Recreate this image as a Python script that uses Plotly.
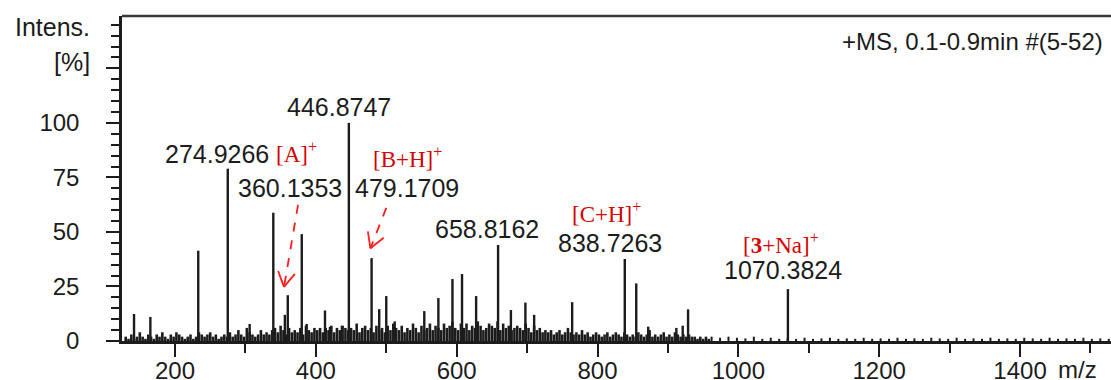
import math
import plotly.graph_objects as go

# ---- spectrum data (m/z, relative intensity in %) ----
# annotated peaks
peak_mz = [274.9266, 360.1353, 446.8747, 479.1709, 658.8162, 838.7263, 1070.3824]
peak_int = [79.0, 21.0, 100.0, 38.0, 44.0, 37.6, 23.8]
peak_ion = ["", "[A]<sup>+</sup>", "", "[B+H]<sup>+</sup>", "",
            "[C+H]<sup>+</sup>", "[<b>3</b>+Na]<sup>+</sup>"]

# other resolved peaks
other_mz = [141.8, 165.0, 233.0, 306.0, 339.6, 356.0, 380.0, 387.0, 413.0, 420.0,
            437.0, 490.0, 500.0, 512.0, 554.0, 574.0, 594.0, 607.6, 627.6, 677.0,
            697.6, 710.0, 764.0, 855.0, 872.0, 912.0, 921.0, 928.6]
other_int = [12.4, 11.0, 41.4, 7.8, 58.8, 12.0, 49.0, 7.8, 14.0, 6.5,
             7.0, 14.6, 20.6, 9.0, 13.7, 19.7, 28.4, 30.7, 20.6, 14.2,
             17.6, 12.0, 17.8, 26.4, 6.6, 6.0, 7.0, 14.5]

# chemical noise, m/z 130 - 958 in 4-unit bins
noise_mz = list(range(130, 959, 4))
noise_int = [
    2, 1, 3, 1, 2, 4, 2, 1, 3, 2,
    1, 3, 2, 4, 2, 1, 3, 2, 4, 3,
    2, 1, 2, 3, 1, 2, 4, 3, 2, 3,
    4, 2, 3, 1, 2, 3, 2, 4, 2, 3,
    5, 3, 2, 6, 4, 3, 2, 3, 5, 3,
    4, 3, 5, 6, 4, 7, 5, 3, 6, 4,
    5, 4, 6, 3, 7, 5, 4, 6, 5, 6,
    4, 6, 5, 7, 4, 6, 5, 7, 6, 5,
    6, 5, 8, 4, 6, 7, 5, 6, 4, 7,
    5, 6, 4, 7, 5, 8, 6, 5, 7, 4,
    6, 5, 8, 6, 4, 7, 5, 6, 8, 5,
    7, 6, 5, 8, 6, 7, 9, 6, 5, 8,
    6, 8, 5, 7, 6, 9, 7, 5, 6, 8,
    7, 6, 9, 5, 8, 6, 7, 5, 6, 7,
    6, 5, 8, 6, 4, 7, 5, 6, 4, 5,
    4, 5, 3, 4, 5, 3, 4, 6, 4, 3,
    4, 3, 5, 3, 4, 2, 3, 4, 3, 2,
    3, 4, 2, 3, 4, 3, 2, 4, 3, 2,
    3, 2, 4, 3, 2, 3, 5, 2, 3, 2,
    3, 4, 2, 3, 2, 4, 3, 2, 3, 2,
    3, 2, 2, 1, 2, 1, 2, 1,
]

# baseline noise at high mass, 12-unit bins
high_mz = list(range(962, 1527, 12))
high_int = [
    2, 1.5, 2, 1.5, 1.2, 2, 1, 1.5, 1, 1.2,
    1, 1.5, 1, 1.2, 1.5, 1, 1.2, 1, 1.5, 1,
    1.2, 1, 1.5, 1, 1.2, 1, 1.5, 1.2, 1, 1.5,
    1, 1.2, 1, 1.5, 1, 1.2, 1, 1.5, 1.2, 1,
    1.5, 1, 1.2, 1, 1.5, 1, 1.2, 1,
]

x_ticks = [200, 400, 600, 800, 1000, 1200, 1400]
y_ticks = [0, 25, 50, 75, 100, 125]
y_tick_text = ["0", "25", "50", "75", "100", ""]

# ---- geometry ----
X_RANGE = [124.73, 1529.2]
Y_RANGE = [0, 149]
W, H = 1111, 380
M_L, M_R, M_T, M_B = 122, 0, 16, 39
PLOT_W = W - M_L - M_R
PLOT_H = H - M_T - M_B

SANS = "Liberation Sans, Arial, sans-serif"
SERIF = "Liberation Serif, Times New Roman, serif"
INK = "#1c1c1c"
RED_TXT = "#d40000"
RED_ARROW = "#ff1e1e"


def sticks(mz, inten):
    xs, ys = [], []
    for m, v in zip(mz, inten):
        xs += [m, m, None]
        ys += [0, v, None]
    return xs, ys


fig = go.Figure()
for mz, it, w in [(noise_mz, noise_int, 2.6), (high_mz, high_int, 2.0),
                  (other_mz, other_int, 2.4), (peak_mz, peak_int, 2.4)]:
    xs, ys = sticks(mz, it)
    fig.add_trace(go.Scatter(x=xs, y=ys, mode="lines", hoverinfo="skip",
                             line=dict(color=INK, width=w), showlegend=False))

# ---- peak labels ----
num_dx = [-11, 2, -10, 35, -11, -15, -5]
num_dy = [15, 107, 16, 70, 16, 16, 19]
ion_dx = [0, 9, 0, 36, -18, -18, -7]
ion_dy = [0, 143, 0, 101, 0, 46, 46]

annotations = []
for i, (m, v) in enumerate(zip(peak_mz, peak_int)):
    annotations.append(dict(x=m, y=v, xref="x", yref="y", text=f"{m:.4f}",
                            showarrow=False, xanchor="center", yanchor="middle",
                            xshift=num_dx[i], yshift=num_dy[i],
                            font=dict(family=SANS, size=25, color=INK)))
    if peak_ion[i]:
        annotations.append(dict(x=m, y=v, xref="x", yref="y", text=peak_ion[i],
                                showarrow=False, xanchor="center", yanchor="middle",
                                xshift=ion_dx[i], yshift=ion_dy[i],
                                font=dict(family=SERIF, size=23, color=RED_TXT)))

annotations += [
    dict(x=0, y=0.966, xref="paper", yref="paper", text="Intens.", showarrow=False,
         xanchor="right", yanchor="middle", xshift=-30,
         font=dict(family=SANS, size=25, color=INK)),
    dict(x=0, y=0.858, xref="paper", yref="paper", text="[%]", showarrow=False,
         xanchor="right", yanchor="middle", xshift=-30,
         font=dict(family=SANS, size=25, color=INK)),
    dict(x=0.9666, y=0, xref="paper", yref="paper", text="m/z", showarrow=False,
         xanchor="center", yanchor="middle", yshift=-28,
         font=dict(family=SANS, size=24, color=INK)),
    dict(x=0.994, y=0.921, xref="paper", yref="paper",
         text="+MS, 0.1-0.9min #(5-52)", showarrow=False,
         xanchor="right", yanchor="middle",
         font=dict(family=SANS, size=24, color=INK)),
]


# ---- dashed red arrows pointing at the ion peaks ----
def to_px(m, v):
    return ((m - X_RANGE[0]) / (X_RANGE[1] - X_RANGE[0]) * PLOT_W,
            (v - Y_RANGE[0]) / (Y_RANGE[1] - Y_RANGE[0]) * PLOT_H)


def to_data(px, py):
    return (X_RANGE[0] + px / PLOT_W * (X_RANGE[1] - X_RANGE[0]),
            Y_RANGE[0] + py / PLOT_H * (Y_RANGE[1] - Y_RANGE[0]))


arrows = [((374.7, 62.4), (354.8, 24.8)),
          ((500.0, 61.0), (477.5, 42.5))]

shapes = []
for (tail, tip) in arrows:
    shapes.append(dict(type="line", xref="x", yref="y",
                       x0=tail[0], y0=tail[1], x1=tip[0], y1=tip[1],
                       line=dict(color=RED_ARROW, width=1.8, dash="dash")))
    tx, ty = to_px(*tail)
    hx, hy = to_px(*tip)
    dx, dy = tx - hx, ty - hy
    n = math.hypot(dx, dy)
    ux, uy = dx / n, dy / n
    for ang in (math.radians(30), math.radians(-30)):
        ax = hx + 17 * (ux * math.cos(ang) - uy * math.sin(ang))
        ay = hy + 17 * (ux * math.sin(ang) + uy * math.cos(ang))
        ex, ey = to_data(ax, ay)
        shapes.append(dict(type="line", xref="x", yref="y",
                           x0=tip[0], y0=tip[1], x1=ex, y1=ey,
                           line=dict(color=RED_ARROW, width=1.8)))

# frame top edge
shapes.append(dict(type="line", xref="paper", yref="paper", x0=0, x1=1, y0=1, y1=1,
                   line=dict(color="#3a3a3a", width=2.5)))

fig.update_layout(
    width=W, height=H,
    margin=dict(l=M_L, r=M_R, t=M_T, b=M_B, pad=0, autoexpand=False),
    paper_bgcolor="white", plot_bgcolor="white",
    annotations=annotations, shapes=shapes,
    xaxis=dict(range=X_RANGE, showgrid=False, zeroline=False, automargin=False,
               showline=True, linecolor=INK, linewidth=3,
               ticks="outside", ticklen=13, tickwidth=2, tickcolor=INK,
               tickmode="array", tickvals=x_ticks, ticklabelstandoff=-7,
               tickfont=dict(family=SANS, size=24, color=INK),
               minor=dict(ticks="outside", dtick=100, tick0=0, ticklen=9,
                          tickwidth=2, tickcolor=INK, showgrid=False)),
    yaxis=dict(range=Y_RANGE, showgrid=False, zeroline=False, automargin=False,
               showline=True, linecolor=INK, linewidth=2.5,
               ticks="outside", ticklen=13, tickwidth=2, tickcolor=INK,
               tickmode="array", tickvals=y_ticks, ticktext=y_tick_text,
               ticklabelstandoff=22,
               tickfont=dict(family=SANS, size=24, color=INK),
               minor=dict(ticks="outside", dtick=5, tick0=0, ticklen=8,
                          tickwidth=2, tickcolor=INK, showgrid=False)),
)

fig.write_html("out.html")
